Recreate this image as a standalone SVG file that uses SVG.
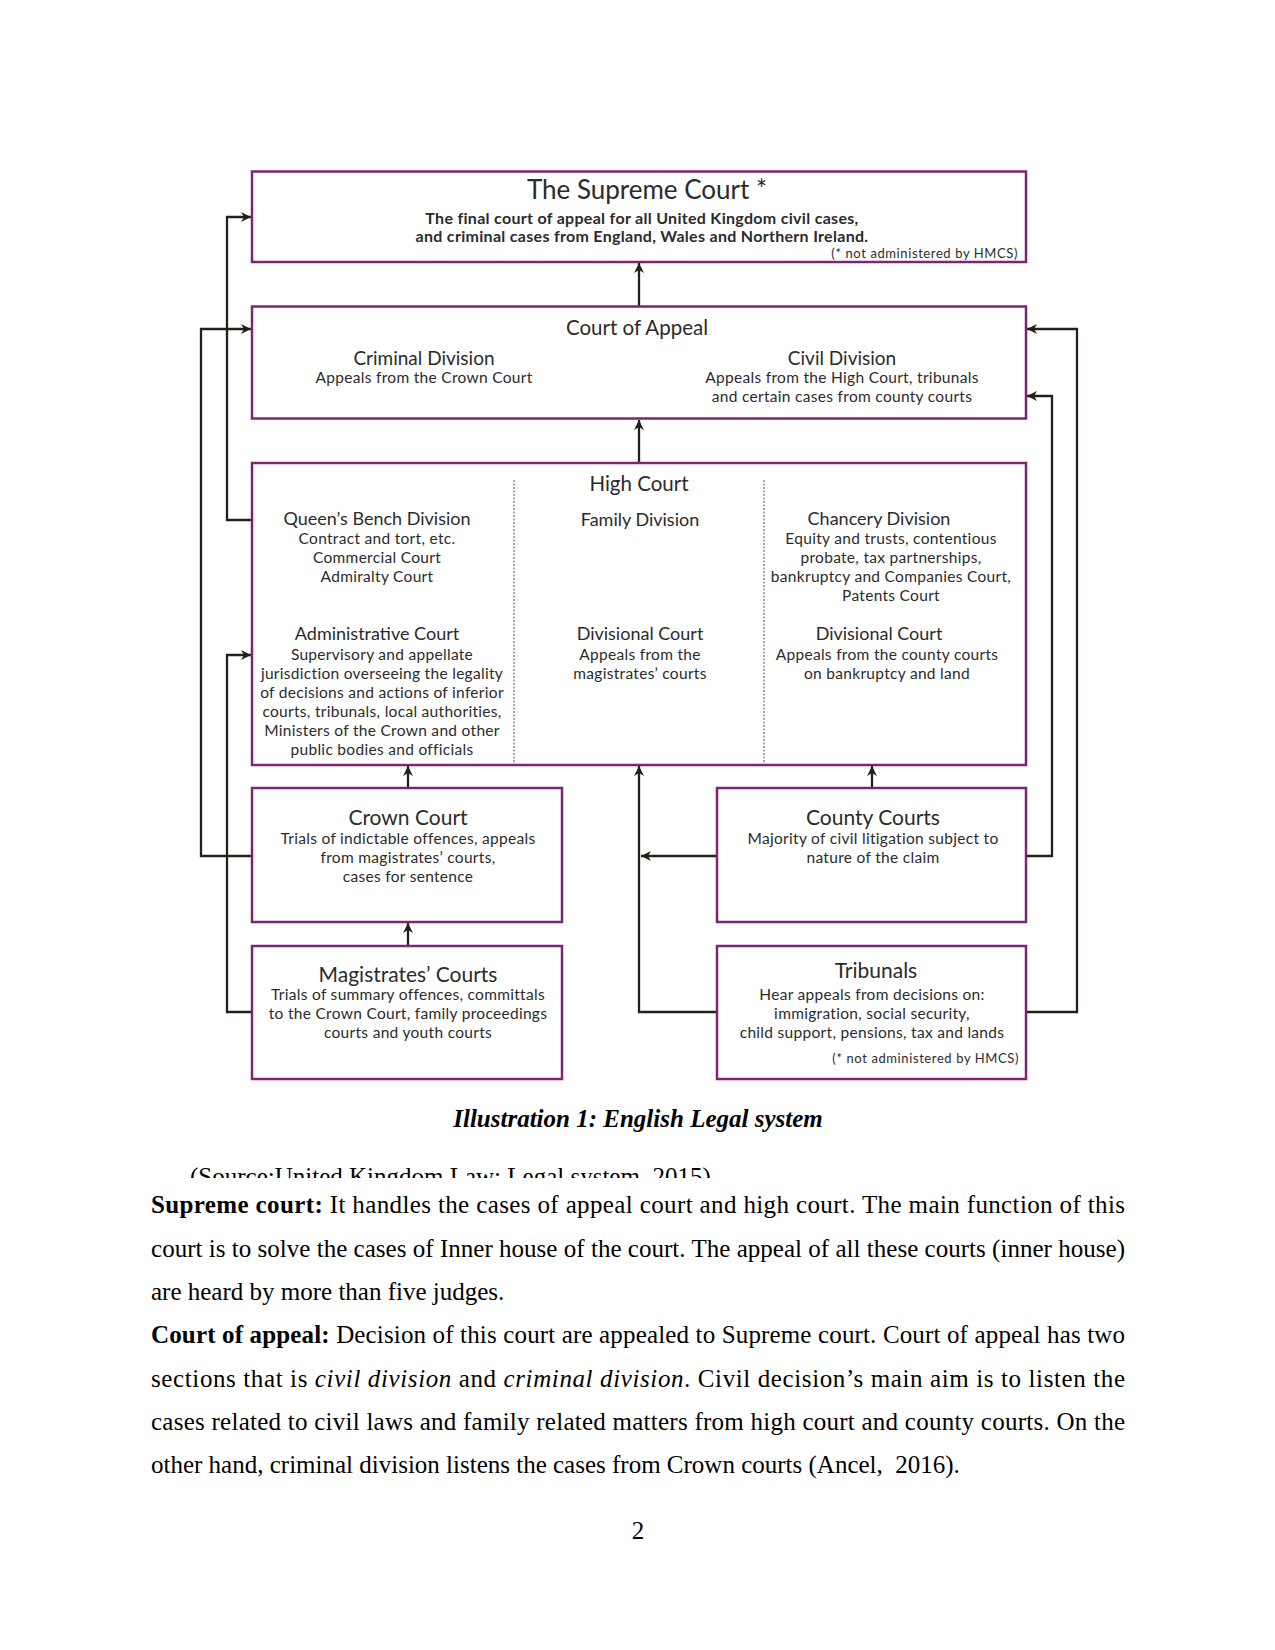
<svg xmlns="http://www.w3.org/2000/svg" width="1275" height="1650" viewBox="0 0 1275 1650">
<style>
.box{fill:#fff;stroke:#7e2470;stroke-width:2.5}
.div{stroke:#a98299;stroke-width:1.6;stroke-dasharray:2 1.5;fill:none}
.con{fill:none;stroke:#222018;stroke-width:2.3}
.t{font-family:Lato,"Open Sans",sans-serif;fill:#2b2b2b;text-anchor:middle}
.h1{font-size:26px}
.h2{font-size:20.5px}
.hc{font-size:19px}
.h3{font-size:18px}
.hb{font-size:21px}
.s{font-size:15.5px;letter-spacing:0.3px}
.b{font-size:16px;font-weight:bold;letter-spacing:0.3px}
.n{font-size:13px;letter-spacing:0.6px;text-anchor:end}
.p{font-family:"Liberation Serif","Times New Roman",serif;font-size:25px;fill:#000}
</style>
<defs>
<marker id="ah" viewBox="0 0 10 10" refX="10" refY="5" markerWidth="10" markerHeight="10" markerUnits="userSpaceOnUse" orient="auto">
<path d="M0,0 L10,5 L0,10 L3,5 z" fill="#222018"/>
</marker>
<clipPath id="srcclip"><rect x="0" y="1150" width="1275" height="28"/></clipPath>
</defs>

<g id="connectors">
<path class="con" d="M639 306 V263" marker-end="url(#ah)"/>
<path class="con" d="M639 463 V420" marker-end="url(#ah)"/>
<path class="con" d="M252 520 H227 V217 H251" marker-end="url(#ah)"/>
<path class="con" d="M252 856 H201 V329 H251" marker-end="url(#ah)"/>
<path class="con" d="M252 1012 H227 V655 H251" marker-end="url(#ah)"/>
<path class="con" d="M1026 856 H1052 V396 H1027" marker-end="url(#ah)"/>
<path class="con" d="M1026 1012 H1077 V329 H1027" marker-end="url(#ah)"/>
<path class="con" d="M717 1012 H639 V766" marker-end="url(#ah)"/>
<path class="con" d="M717 856 H641" marker-end="url(#ah)"/>
<path class="con" d="M408 788 V766" marker-end="url(#ah)"/>
<path class="con" d="M408 946 V923" marker-end="url(#ah)"/>
<path class="con" d="M872 788 V766" marker-end="url(#ah)"/>
</g>

<g id="supreme-court">
<rect class="box" x="252" y="171.5" width="774" height="90.5"/>
<text class="t h1" x="647" y="199">The Supreme Court *</text>
<text class="t b" x="642" y="224">The final court of appeal for all United Kingdom civil cases,</text>
<text class="t b" x="642" y="241.5">and criminal cases from England, Wales and Northern Ireland.</text>
<text class="t n" x="1018" y="257.5">(* not administered by HMCS)</text>
</g>

<g id="court-of-appeal">
<rect class="box" x="252" y="306.5" width="774" height="112"/>
<text class="t h2" x="637" y="335">Court of Appeal</text>
<text class="t hc" x="424" y="365">Criminal Division</text>
<text class="t s" x="424" y="383">Appeals from the Crown Court</text>
<text class="t hc" x="842" y="365">Civil Division</text>
<text class="t s" x="842" y="383">Appeals from the High Court, tribunals</text>
<text class="t s" x="842" y="402">and certain cases from county courts</text>
</g>

<g id="high-court">
<rect class="box" x="252" y="463" width="774" height="302"/>
<line class="div" x1="514" y1="480" x2="514" y2="764"/>
<line class="div" x1="764" y1="480" x2="764" y2="764"/>
<text class="t h2" x="639" y="491">High Court</text>
<text class="t h3" x="377" y="525">Queen’s Bench Division</text>
<text class="t s" x="377" y="544">Contract and tort, etc.</text>
<text class="t s" x="377" y="563">Commercial Court</text>
<text class="t s" x="377" y="582">Admiralty Court</text>
<text class="t h3" x="640" y="526">Family Division</text>
<text class="t h3" x="879" y="525">Chancery Division</text>
<text class="t s" x="891" y="544">Equity and trusts, contentious</text>
<text class="t s" x="891" y="563">probate, tax partnerships,</text>
<text class="t s" x="891" y="582">bankruptcy and Companies Court,</text>
<text class="t s" x="891" y="601">Patents Court</text>
<text class="t h3" x="377" y="640">Administrative Court</text>
<text class="t s" x="382" y="660">Supervisory and appellate</text>
<text class="t s" x="382" y="679">jurisdiction overseeing the legality</text>
<text class="t s" x="382" y="698">of decisions and actions of inferior</text>
<text class="t s" x="382" y="717">courts, tribunals, local authorities,</text>
<text class="t s" x="382" y="736">Ministers of the Crown and other</text>
<text class="t s" x="382" y="755">public bodies and officials</text>
<text class="t h3" x="640" y="640">Divisional Court</text>
<text class="t s" x="640" y="660">Appeals from the</text>
<text class="t s" x="640" y="679">magistrates’ courts</text>
<text class="t h3" x="879" y="640">Divisional Court</text>
<text class="t s" x="887" y="660">Appeals from the county courts</text>
<text class="t s" x="887" y="679">on bankruptcy and land</text>
</g>

<g id="crown-court">
<rect class="box" x="252" y="788" width="310" height="134"/>
<text class="t hb" x="408" y="825">Crown Court</text>
<text class="t s" x="408" y="844">Trials of indictable offences, appeals</text>
<text class="t s" x="408" y="863">from magistrates’ courts,</text>
<text class="t s" x="408" y="882">cases for sentence</text>
</g>

<g id="county-courts">
<rect class="box" x="717" y="788" width="309" height="134"/>
<text class="t hb" x="873" y="825">County Courts</text>
<text class="t s" x="873" y="844">Majority of civil litigation subject to</text>
<text class="t s" x="873" y="863">nature of the claim</text>
</g>

<g id="magistrates-courts">
<rect class="box" x="252" y="946" width="310" height="133"/>
<text class="t hb" x="408" y="982">Magistrates’ Courts</text>
<text class="t s" x="408" y="1000">Trials of summary offences, committals</text>
<text class="t s" x="408" y="1019">to the Crown Court, family proceedings</text>
<text class="t s" x="408" y="1038">courts and youth courts</text>
</g>

<g id="tribunals">
<rect class="box" x="717" y="946" width="309" height="133"/>
<text class="t hb" x="876" y="978">Tribunals</text>
<text class="t s" x="872" y="1000">Hear appeals from decisions on:</text>
<text class="t s" x="872" y="1019">immigration, social security,</text>
<text class="t s" x="872" y="1038">child support, pensions, tax and lands</text>
<text class="t n" x="1019" y="1063">(* not administered by HMCS)</text>
</g>

<g id="body-text">
<text class="p" x="638" y="1127" text-anchor="middle" font-weight="bold" font-style="italic">Illustration 1: English Legal system</text>
<text class="p" x="190" y="1185" clip-path="url(#srcclip)">(Source:United Kingdom Law: Legal system, 2015)</text>
<text class="p" x="151" y="1213" textLength="974" lengthAdjust="spacing"><tspan font-weight="bold">Supreme court:</tspan> It handles the cases of appeal court and high court. The main function of this</text>
<text class="p" x="151" y="1256.5" textLength="974" lengthAdjust="spacing">court is to solve the cases of Inner house of the court. The appeal of all these courts (inner house)</text>
<text class="p" x="151" y="1300">are heard by more than five judges.</text>
<text class="p" x="151" y="1343" textLength="974" lengthAdjust="spacing"><tspan font-weight="bold">Court of appeal:</tspan> Decision of this court are appealed to Supreme court. Court of appeal has two</text>
<text class="p" x="151" y="1386.5" textLength="974" lengthAdjust="spacing">sections that is <tspan font-style="italic">civil division</tspan> and <tspan font-style="italic">criminal division</tspan>. Civil decision’s main aim is to listen the</text>
<text class="p" x="151" y="1430" textLength="974" lengthAdjust="spacing">cases related to civil laws and family related matters from high court and county courts. On the</text>
<text class="p" x="151" y="1473" xml:space="preserve">other hand, criminal division listens the cases from Crown courts (Ancel,  2016).</text>
<text class="p" x="638" y="1539" text-anchor="middle">2</text>
</g>
</svg>
